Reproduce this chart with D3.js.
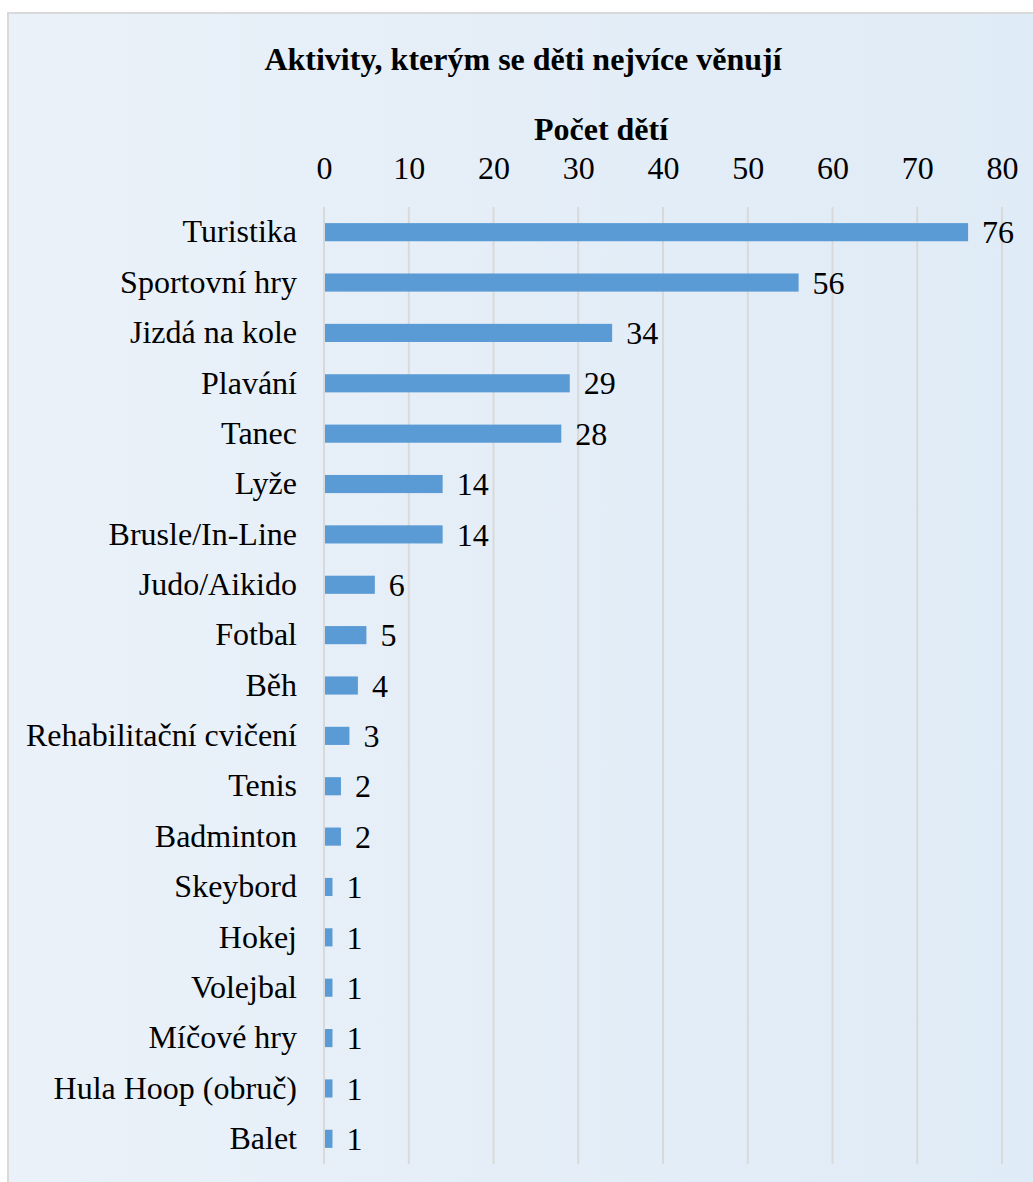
<!DOCTYPE html>
<html><head><meta charset="utf-8">
<script src="https://cdn.jsdelivr.net/npm/d3@7"></script>
<style>body{margin:0;background:#fff;}svg{display:block;}</style>
</head><body>
<script>
const categories = ["Turistika","Sportovní hry","Jizdá na kole","Plavání","Tanec","Lyže","Brusle/In-Line","Judo/Aikido","Fotbal","Běh","Rehabilitační cvičení","Tenis","Badminton","Skeybord","Hokej","Volejbal","Míčové hry","Hula Hoop (obruč)","Balet"];
const values = [76,56,34,29,28,14,14,6,5,4,3,2,2,1,1,1,1,1,1];
const tickValues = [0,10,20,30,40,50,60,70,80];
const title = "Aktivity, kterým se děti nejvíce věnují";
const axisTitle = "Počet dětí";

const W = 1033, H = 1182;
const svg = d3.select("body").append("svg").attr("width", W).attr("height", H);
const defs = svg.append("defs");
const grad = defs.append("linearGradient").attr("id","bg").attr("x1","0").attr("x2","1").attr("y1","0").attr("y2","0");
grad.append("stop").attr("offset","0").attr("stop-color","#EAF1F9");
grad.append("stop").attr("offset","1").attr("stop-color","#DFEBF6");
svg.append("rect").attr("x",8).attr("y",13).attr("width",W+10).attr("height",H+10)
  .attr("fill","url(#bg)").attr("stroke","#D9D9D9").attr("stroke-width",2);

const font = "'Liberation Serif','Times New Roman',serif";
const fs = 32;
const x = d3.scaleLinear().domain([0,80]).range([324,1002]);
const y = d3.scaleBand().domain(categories).range([207,1164]).paddingInner(0.64).paddingOuter(0.32);

svg.append("text").attr("x",523).attr("y",70).attr("text-anchor","middle")
  .attr("font-family",font).attr("font-weight","bold").attr("font-size",fs).text(title);
svg.append("text").attr("x",601).attr("y",140).attr("text-anchor","middle")
  .attr("font-family",font).attr("font-weight","bold").attr("font-size",fs).text(axisTitle);

// gridlines
svg.append("g").selectAll("line").data(tickValues).join("line")
  .attr("x1",d=>x(d)).attr("x2",d=>x(d)).attr("y1",207).attr("y2",1164)
  .attr("stroke","#D9D9D9").attr("stroke-width",2);

// top axis
const ax = svg.append("g").attr("transform","translate(0,207)")
  .call(d3.axisTop(x).tickValues(tickValues).tickSize(0).tickPadding(28));
ax.select(".domain").remove();
ax.selectAll("text").attr("font-family",font).attr("font-size",fs).attr("fill","#000");

// left axis labels
const ay = svg.append("g").attr("transform","translate(324,0)")
  .call(d3.axisLeft(y).tickSize(0).tickPadding(27));
ay.select(".domain").remove();
ay.selectAll("text").attr("font-family",font).attr("font-size",fs).attr("fill","#000");

// bars
svg.append("g").selectAll("rect").data(values).join("rect")
  .attr("x",x(0)+1).attr("y",(d,i)=>y(categories[i]))
  .attr("width",d=>x(d)-x(0)-1).attr("height",y.bandwidth())
  .attr("fill","#5B9BD5");

// value labels
svg.append("g").selectAll("text").data(values).join("text")
  .attr("x",d=>x(d)+14).attr("y",(d,i)=>y(categories[i])+y.bandwidth()/2)
  .attr("dy","0.35em").attr("font-family",font).attr("font-size",fs).text(d=>d);
</script>
</body></html>
